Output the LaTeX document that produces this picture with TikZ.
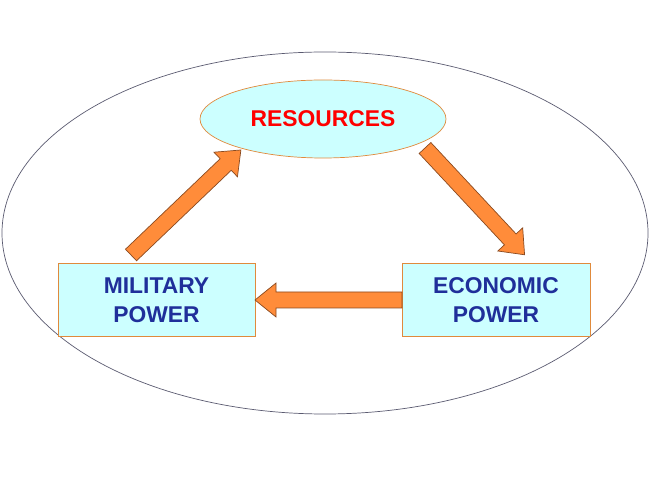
\documentclass[tikz,border=0pt]{standalone}
\usepackage{fontspec}
\setmainfont{Liberation Sans}
\usetikzlibrary{shapes.geometric}
\definecolor{boxfill}{HTML}{CCFFFF}
\definecolor{boxline}{HTML}{E08A3C}
\definecolor{arrowfill}{HTML}{FF8C3A}
\definecolor{arrowline}{HTML}{8A4A20}
\definecolor{textblue}{HTML}{1F2F9A}
\definecolor{worldline}{HTML}{5A5A70}
\tikzset{
  label font/.style={font=\bfseries\fontsize{13}{16.5}\selectfont},
  box/.style={draw=boxline, fill=boxfill, minimum width=3.94cm, minimum height=1.46cm,
    label font, text=textblue, align=center},
}
\begin{document}
\begin{tikzpicture}
  \useasboundingbox (0,0) rectangle (13,9.76);
  % outer ellipse
  \node[draw=worldline, ellipse, minimum width=12.92cm, minimum height=7.24cm] (world) at (6.5,5.1) {};
  % nodes
  \node[ellipse, draw=boxline, fill=boxfill, inner sep=0pt, minimum width=4.92cm, minimum height=1.56cm,
    label font, text=red] (res) at (6.46,7.38) {RESOURCES};
  \node[box] (mil) at (3.13,3.76) {MILITARY\\POWER};
  \node[box, minimum width=3.76cm] (eco) at (9.92,3.76) {ECONOMIC\\POWER};
  % arrows: tail x, tail y, angle, length
  \foreach \x/\y/\a/\l in {2.62/4.66/43.7/3.04, 8.5/6.80/-47/2.92, 8.04/3.76/180/2.94}
    \draw[arrowline, fill=arrowfill, shift={(\x,\y)}, rotate=\a]
      (0,-0.16) -- (\l-0.42,-0.16) -- (\l-0.42,-0.34) -- (\l,0) -- (\l-0.42,0.34)
      -- (\l-0.42,0.16) -- (0,0.16) -- cycle;
\end{tikzpicture}
\end{document}
